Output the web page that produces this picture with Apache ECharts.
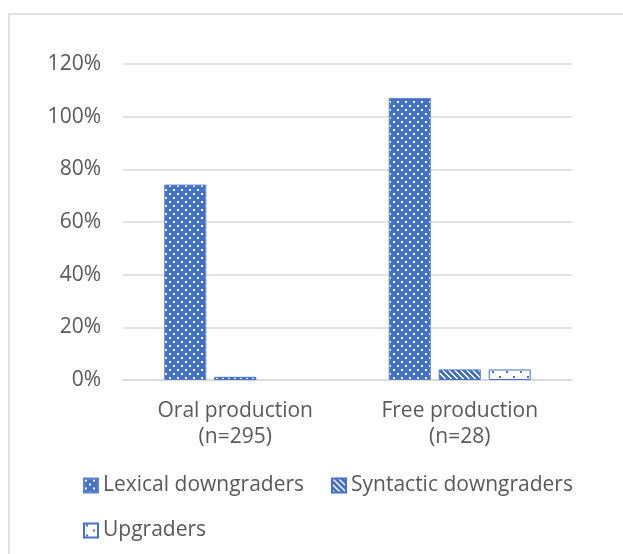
<!DOCTYPE html>
<html>
<head>
<meta charset="utf-8">
<style>
html,body{margin:0;padding:0;background:#fff;}
#chart{width:623px;height:554px;}
</style>
<script src="https://cdn.jsdelivr.net/npm/echarts@6/dist/echarts.min.js"></script>
</head>
<body>
<div id="chart"></div>
<script>
const categories = ['Oral production\n(n=295)', 'Free production\n(n=28)'];
const seriesNames = ['Lexical downgraders', 'Syntactic downgraders', 'Upgraders'];
const lexical = [0.742, 1.071];
const syntactic = [0.012, 0.040];
const upgraders = [0, 0.040];
const yTicks = [0, 0.2, 0.4, 0.6, 0.8, 1.0, 1.2];

const BLUE = '#4472C4';
const TEXT = '#595959';
const FONT = '"Open Sans", sans-serif';

function makeCanvas(w, h, draw) {
  const c = document.createElement('canvas');
  c.width = w; c.height = h;
  const ctx = c.getContext('2d');
  draw(ctx);
  return c;
}
const dotPattern = makeCanvas(8, 8, ctx => {
  ctx.fillStyle = BLUE; ctx.fillRect(0, 0, 8, 8);
  ctx.fillStyle = '#fff';
  ctx.fillRect(1, 1, 2, 2);
  ctx.fillRect(5, 5, 2, 2);
});
const stripePattern = makeCanvas(6, 6, ctx => {
  ctx.fillStyle = BLUE; ctx.fillRect(0, 0, 6, 6);
  ctx.fillStyle = '#fff';
  for (let i = 0; i < 6; i++) {
    ctx.fillRect(i, i, 2, 1);
  }
  ctx.fillRect(0, 5, 1, 1);
});
const sparsePattern = makeCanvas(14, 10, ctx => {
  ctx.fillStyle = '#fff'; ctx.fillRect(0, 0, 14, 10);
  ctx.fillStyle = BLUE;
  ctx.fillRect(2, 1, 2, 2);
  ctx.fillRect(9, 6, 2, 2);
});

const patterns = [
  { image: dotPattern, repeat: 'repeat' },
  { image: stripePattern, repeat: 'repeat' },
  { image: sparsePattern, repeat: 'repeat' }
];
const borders = ['#5B83CC', BLUE, BLUE];
const datas = [lexical, syntactic, upgraders];

const chart = echarts.init(document.getElementById('chart'), null, { renderer: 'canvas' });

const legendPos = [
  { left: 83, top: 475 },
  { left: 331, top: 475 },
  { left: 83, top: 520 }
];

chart.setOption({
  animation: false,
  backgroundColor: '#fff',
  graphic: [{
    type: 'rect',
    shape: { x: 9, y: 14, width: 700, height: 700 },
    style: { fill: 'none', stroke: '#d9d9d9', lineWidth: 1.5 },
    silent: true
  }],
  grid: { left: 123, right: 51, top: 64, bottom: 174 },
  legend: seriesNames.map((n, i) => ({
    data: [n],
    left: legendPos[i].left,
    top: legendPos[i].top,
    padding: 0,
    itemWidth: 14,
    itemHeight: 14,
    itemGap: 0,
    itemTextGap: 6,
    icon: 'rect',
    textStyle: { color: TEXT, fontSize: 21, fontFamily: FONT, lineHeight: 20 },
    selectedMode: false
  })),
  xAxis: {
    type: 'category',
    data: categories,
    axisLine: { show: true, lineStyle: { color: '#d9d9d9', width: 1.5 } },
    axisTick: { show: false },
    axisLabel: { color: TEXT, fontSize: 21, fontFamily: FONT, lineHeight: 26, margin: 18, interval: 0 }
  },
  yAxis: {
    type: 'value',
    min: 0,
    max: 1.2,
    interval: 0.2,
    axisLine: { show: false },
    axisTick: { show: false },
    splitLine: { lineStyle: { color: '#d9d9d9', width: 1.5 } },
    axisLabel: {
      color: TEXT, fontSize: 21, fontFamily: FONT, margin: 22,
      formatter: v => Math.round(v * 100) + '%'
    }
  },
  series: seriesNames.map((n, i) => ({
    name: n,
    type: 'bar',
    data: datas[i].map(v => v === 0 ? { value: v, itemStyle: { borderWidth: 0 } } : v),
    barWidth: 42,
    barGap: '19%',
    itemStyle: { color: patterns[i], borderColor: borders[i], borderWidth: 1 }
  }))
});
</script>
</body>
</html>
